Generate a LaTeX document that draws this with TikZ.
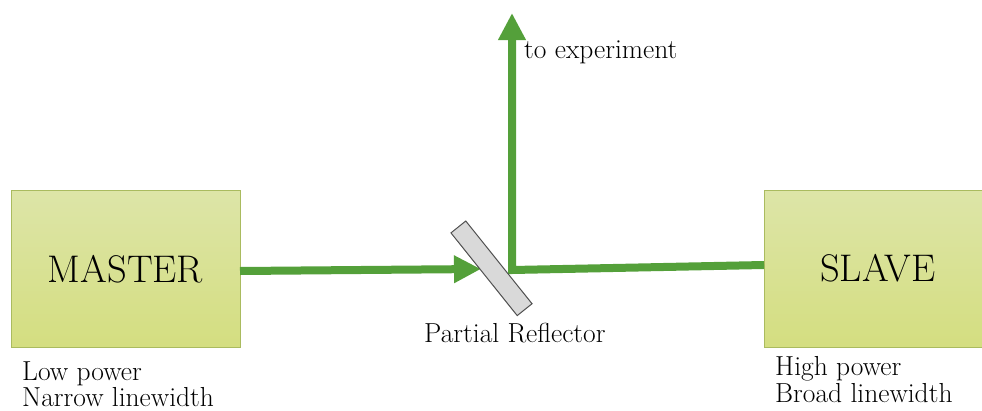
\documentclass[tikz,border=0pt]{standalone}
\usepackage{fontspec}
\usetikzlibrary{arrows.meta}
\definecolor{beamgreen}{RGB}{84,160,58}
\definecolor{boxtop}{RGB}{221,229,168}
\definecolor{boxbot}{RGB}{212,222,128}
\definecolor{boxline}{RGB}{170,187,95}
\definecolor{mirrorfill}{RGB}{217,217,217}
\definecolor{mirrorline}{RGB}{80,80,80}
\tikzset{
  laserbox/.style={draw=boxline, line width=1pt, top color=boxtop, bottom color=boxbot, inner sep=0pt},
  beam/.style={draw=beamgreen, line width=8pt},
  beamtip/.style={-{Triangle[length=27pt,width=26pt]}},
  bigtext/.style={font=\fontsize{38.5}{42}\selectfont, inner sep=0pt},
  smalltext/.style={font=\fontsize{27.5}{32}\selectfont, inner sep=0pt, anchor=base west},
}
\begin{document}
\begin{tikzpicture}[x=1pt,y=-1pt]
\useasboundingbox (0,0) rectangle (982,410);
% boxes
\node[laserbox, minimum width=229pt, minimum height=157pt] (master) at (125.5,268.5) {};
\node[laserbox, minimum width=218pt, minimum height=157pt] (slave) at (873,268.5) {};
\node[bigtext, anchor=base] (mastert) at (125.5,282) {MASTER};
\node[bigtext, anchor=base] (slavet) at (878,281) {SLAVE};
% beams
\coordinate (mstart) at (240,271);
\coordinate (hit) at (481,269);
\coordinate (sstart) at (764,265);
\coordinate (corner) at (512,270);
\coordinate (out) at (512,13);
\draw[beam, beamtip] (mstart) -- (hit);
\draw[beam, beamtip, line join=miter] (sstart) -- (corner) -- (out);
% mirror
\node[draw=mirrorline, fill=mirrorfill, line width=1pt, minimum width=106pt, minimum height=19pt, inner sep=0pt, rotate=-51.3] (mirror) at (491.5,268.3) {};
% labels
\node[smalltext] (toexp) at (524,58) {to experiment};
\node[smalltext] (pr) at (424,342) {Partial Reflector};
\node[smalltext] (lp) at (22,380) {Low power};
\node[smalltext] (nl) at (22,406) {Narrow linewidth};
\node[smalltext] (hp) at (775,375) {High power};
\node[smalltext] (bl) at (775,402) {Broad linewidth};
\end{tikzpicture}
\end{document}
